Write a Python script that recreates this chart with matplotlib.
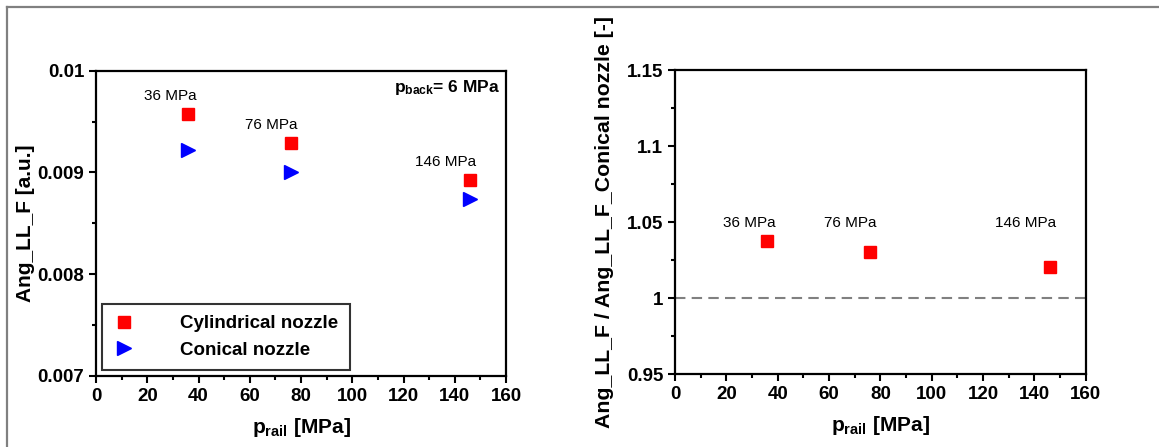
import matplotlib
matplotlib.use("Agg")
import matplotlib.pyplot as plt
from matplotlib.lines import Line2D
from matplotlib.ticker import MultipleLocator

plt.rcParams['font.family'] = ['Liberation Sans', 'DejaVu Sans']
plt.rcParams['mathtext.fontset'] = 'custom'
plt.rcParams['mathtext.rm'] = 'Liberation Sans'
plt.rcParams['mathtext.bf'] = 'Liberation Sans:bold'

# data
p_rail = [36, 76, 146]
labels = ['36 MPa', '76 MPa', '146 MPa']
cyl = [0.00957, 0.009286, 0.008922]
con = [0.009223, 0.009007, 0.008738]
ratio = [1.0379, 1.0303, 1.0206]
lab_x = [28.9, 68.2, 136.5]
lab_y_left = [0.00975, 0.009466, 0.009102]
lab_y_right = [1.0493, 1.0493, 1.0493]

fig = plt.figure(figsize=(11.59, 4.47), dpi=100)
W, H = 1159, 447
ax1 = fig.add_axes([96 / W, 1 - 375.7 / H, 410 / W, 305 / H])
ax2 = fig.add_axes([675 / W, 1 - 374.3 / H, 410.7 / W, 304 / H])

# outer frame (top and left only)
fig.add_artist(Line2D([7 / W, 7 / W], [0, 1 - 7 / H], color='#808080', lw=1.6))
fig.add_artist(Line2D([7 / W, 1], [1 - 7 / H, 1 - 7 / H], color='#808080', lw=1.6))

ax1.plot(p_rail, cyl, 's', color='red', ms=9, ls='none', label='Cylindrical nozzle')
ax1.plot(p_rail, con, '>', color='blue', ms=10, ls='none', label='Conical nozzle')
for x, y, t in zip(lab_x, lab_y_left, labels):
    ax1.text(x, y, t, ha='center', va='center', fontsize=11)
ax1.text(0.985, 0.945, r'$\mathbf{p_{back}}$= 6 MPa', transform=ax1.transAxes,
         ha='right', va='center', fontsize=12.5, fontweight='bold')
ax1.set_xlim(0, 160)
ax1.set_ylim(0.007, 0.01)
ax1.set_yticks([0.007, 0.008, 0.009, 0.01])
ax1.set_yticklabels(['0.007', '0.008', '0.009', '0.01'])
ax1.set_ylabel('Ang_LL_F [a.u.]', fontsize=15, fontweight='bold', labelpad=2)
ax1.set_xlabel(r'$\mathbf{p_{rail}}$ [MPa]', fontsize=15, fontweight='bold', labelpad=8)
leg = ax1.legend(loc='lower left', bbox_to_anchor=(0.0, 0.0),
                 prop={'weight': 'bold', 'size': 13.5}, frameon=True, fancybox=False,
                 edgecolor='black', handletextpad=2.4, borderpad=0.6, labelspacing=0.5,
                 handlelength=1.2, borderaxespad=0.3)
leg.get_frame().set_linewidth(1.5)

ax2.plot(p_rail, ratio, 's', color='red', ms=9, ls='none')
ax2.axhline(1.0, color='#808080', ls=(0, (5, 3)), lw=1.5)
for x, y, t in zip(lab_x, lab_y_right, labels):
    ax2.text(x, y, t, ha='center', va='center', fontsize=11)
ax2.set_xlim(0, 160)
ax2.set_ylim(0.95, 1.15)
ax2.set_yticks([0.95, 1.0, 1.05, 1.1, 1.15])
ax2.set_yticklabels(['0.95', '1', '1.05', '1.1', '1.15'])
ax2.set_ylabel('Ang_LL_F / Ang_LL_F_Conical nozzle [-]', fontsize=15.3,
               fontweight='bold', labelpad=9)
ax2.set_xlabel(r'$\mathbf{p_{rail}}$ [MPa]', fontsize=15, fontweight='bold', labelpad=8)

for ax in (ax1, ax2):
    ax.xaxis.set_major_locator(MultipleLocator(20))
    ax.xaxis.set_minor_locator(MultipleLocator(10))
    for s in ax.spines.values():
        s.set_linewidth(1.6)
    ax.tick_params(which='both', direction='out', top=False, right=False, width=1.5)
    ax.tick_params(which='major', length=5, labelsize=13.5)
    ax.tick_params(which='minor', length=3)
    for t in ax.get_xticklabels() + ax.get_yticklabels():
        t.set_fontweight('bold')

ax1.yaxis.set_minor_locator(MultipleLocator(0.0005))
ax2.yaxis.set_minor_locator(MultipleLocator(0.025))

fig.savefig('out.png', dpi=100)
